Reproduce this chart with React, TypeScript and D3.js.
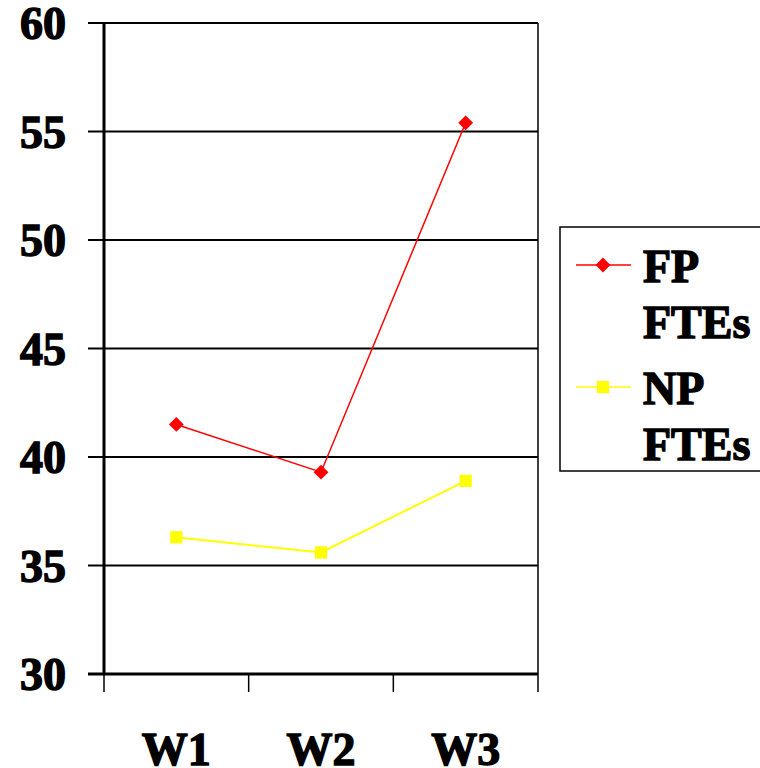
import React from "react";
import * as d3 from "d3";

const categories = ["W1", "W2", "W3"];
const fpValues = [41.5, 39.3, 55.4];
const npValues = [36.3, 35.6, 38.9];
const yTicks = [30, 35, 40, 45, 50, 55, 60];
const seriesNames = [["FP", "FTEs"], ["NP", "FTEs"]];

const W = 760;
const H = 768;
const left = 104;
const right = 538;
const top = 23;
const bottom = 674;
const font = "'Liberation Serif', 'Times New Roman', serif";
const txt = { fontFamily: font, fontWeight: "bold" as const, fontSize: 46, stroke: "#000", strokeWidth: 1.4 };

export default function App() {
  const x = d3.scaleBand<string>().domain(categories).range([left, right]);
  const y = d3.scaleLinear().domain([30, 60]).range([bottom, top]);
  const cx = (c: string) => (x(c) as number) + x.bandwidth() / 2;
  const line = d3
    .line<number>()
    .x((_, i) => cx(categories[i]))
    .y((v) => y(v));
  const sq = d3.symbol(d3.symbolSquare, 150)();
  const dm = d3.symbol(d3.symbolSquare, 110)();
  const edges = [...categories.map((c) => x(c) as number), right];

  return (
    <svg width={W} height={H} style={{ position: "absolute", left: 0, top: 0 }}>
      <rect width={W} height={H} fill="#fff" />
      {yTicks.map((t) => (
        <g key={t}>
          {t !== 30 && (
            <line x1={88} x2={right} y1={y(t)} y2={y(t)} stroke="#000" strokeWidth={2} />
          )}
          <text x={66} y={y(t) + 16} textAnchor="end" {...txt}>
            {t}
          </text>
        </g>
      ))}
      <line x1={right} x2={right} y1={top} y2={bottom} stroke="#000" strokeWidth={1.5} />
      {edges.map((e, i) => (
        <line key={i} x1={e} x2={e} y1={bottom} y2={692} stroke="#000" strokeWidth={1.5} />
      ))}
      <line x1={88} x2={right} y1={bottom} y2={bottom} stroke="#000" strokeWidth={3} />
      <line x1={left} x2={left} y1={top} y2={bottom} stroke="#000" strokeWidth={3} />
      {categories.map((c) => (
        <text key={c} x={cx(c)} y={765} textAnchor="middle" {...txt}>
          {c}
        </text>
      ))}
      <path d={line(npValues) || ""} fill="none" stroke="#FFFF00" strokeWidth={2} />
      <path d={line(fpValues) || ""} fill="none" stroke="#FF0000" strokeWidth={1.5} />
      {npValues.map((v, i) => (
        <path key={i} d={sq || ""} transform={`translate(${cx(categories[i])},${y(v)})`} fill="#FFFF00" />
      ))}
      {fpValues.map((v, i) => (
        <path
          key={i}
          d={dm || ""}
          transform={`translate(${cx(categories[i])},${y(v)}) rotate(45)`}
          fill="#FF0000"
        />
      ))}
      <rect x={560} y={227} width={210} height={244} fill="none" stroke="#000" strokeWidth={1.5} />
      {seriesNames.map((n, i) => {
        const ly = 265 + i * 122;
        const col = i === 0 ? "#FF0000" : "#FFFF00";
        return (
          <g key={i}>
            <line x1={576} x2={631} y1={ly} y2={ly} stroke={col} strokeWidth={1.5} />
            <path
              d={(i === 0 ? dm : sq) || ""}
              transform={`translate(603,${ly})${i === 0 ? " rotate(45)" : ""}`}
              fill={col}
            />
            <text x={643} y={ly + 17} {...txt}>
              {n[0]}
            </text>
            <text x={643} y={ly + 73} {...txt}>
              {n[1]}
            </text>
          </g>
        );
      })}
    </svg>
  );
}
